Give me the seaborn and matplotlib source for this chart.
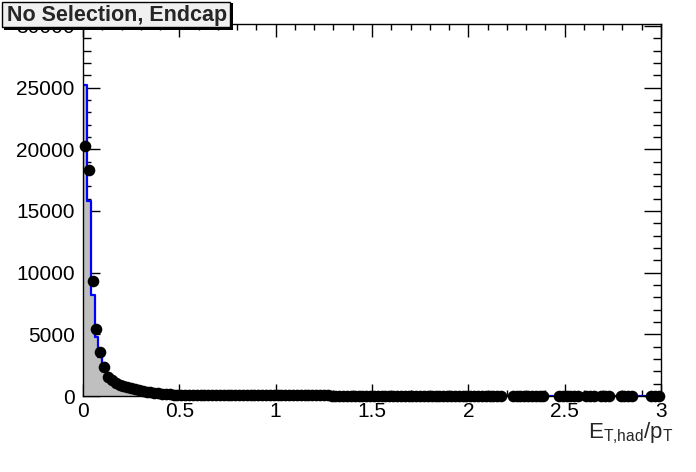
import numpy as np
import pandas as pd
import matplotlib
matplotlib.use("Agg")
import matplotlib.pyplot as plt
import matplotlib.patches as mpatches
from matplotlib.ticker import MultipleLocator
import seaborn as sns

# binning: 150 bins of 0.02 between 0 and 3
bin_lo = 0.0
bin_hi = 3.0
n_bins = 150

# simulation (filled histogram), counts per bin
mc_counts = [
    25200, 15850, 8150, 4810, 3160, 2650, 1800, 1380, 1100, 900,
    760, 650, 560, 490, 430, 375, 330, 290, 255, 225,
    195, 170, 150, 130, 115, 100,
    92, 88, 85, 82, 80, 78, 76, 74, 72, 70, 68, 67, 65, 64, 63, 61, 60, 59, 58, 57, 56, 55, 54, 53,
    52, 51, 50, 49, 48, 47, 46, 45, 45, 44, 43, 42, 41, 41, 40, 39, 38, 38, 37, 36, 36, 35, 34, 34, 33,
    32, 32, 31, 30, 30, 29, 29, 28, 27, 27, 26, 26, 25, 25, 24, 24, 23, 23, 22, 22, 21, 21, 20, 20, 19,
    19, 18, 18, 17, 17, 16, 16, 15, 15, 15, 14, 14, 13, 13, 12, 12, 12, 11, 11, 11, 11, 10, 10, 10, 10,
    9, 9, 9, 8, 8, 8, 8, 7, 7, 7, 7, 6, 6, 6, 6, 6, 5, 5, 5, 5, 5, 5, 5, 4, 4,
]

# data (black points), counts per bin; empty bins are not drawn
data_counts = [
    20240, 18340, 9330, 5400, 3600, 2330, 1570, 1300, 1090, 930,
    810, 690, 610, 530, 460, 400, 350, 300, 260, 225,
    195, 165, 140, 120, 105, 95,
    90, 88, 85, 82, 80, 78, 76, 74, 72, 70, 69, 67, 66, 64, 63, 62, 60, 59, 58, 57, 56, 55, 54, 53,
    52, 51, 50, 49, 48, 47, 46, 46, 45, 44, 43, 42, 42, 41, 40, 39, 38, 38, 37, 36, 36, 35, 34, 34, 33,
    32, 32, 31, 30, 30, 29, 29, 28, 27, 27, 26, 26, 25, 25, 24, 24, 23, 23, 22, 22, 21, 21, 20, 20, 19,
    19, 18, 18, 17, 17, 16, 16, 15, 15, 0, 0, 14, 13, 13, 12, 12, 12, 11, 11, 11, 0, 0, 0, 10, 10,
    9, 9, 9, 8, 0, 8, 8, 7, 0, 7, 7, 6, 0, 0, 6, 6, 5, 5, 0, 0, 0, 0, 5, 4, 4,
]

title_text = "No Selection, Endcap"
x_title = r"$\mathregular{E_{T{,}had}/p_{T}}$"

edges = np.linspace(bin_lo, bin_hi, n_bins + 1)
centers = 0.5 * (edges[:-1] + edges[1:])
bin_w = (bin_hi - bin_lo) / n_bins
df = pd.DataFrame({"x": centers, "mc": mc_counts, "data": data_counts})
pts = df[df["data"] > 0]

sns.set_style("ticks")
plt.rcParams["font.family"] = ["Liberation Sans", "DejaVu Sans"]
plt.rcParams["mathtext.fontset"] = "custom"
plt.rcParams["mathtext.rm"] = "Liberation Sans"
plt.rcParams["mathtext.it"] = "Liberation Sans"

fig = plt.figure(figsize=(6.96, 4.72), dpi=100)
ax = fig.add_axes([83 / 696, 1 - 396 / 472, 578 / 696, 372 / 472])

# filled grey histogram with blue outline
sns.histplot(data=df, x="x", weights="mc", binwidth=bin_w, binrange=(bin_lo, bin_hi),
             element="step", fill=True, color="#bfbfbf", alpha=1, linewidth=0, ax=ax)
sns.histplot(data=df, x="x", weights="mc", binwidth=bin_w, binrange=(bin_lo, bin_hi),
             element="step", fill=False, color="#0000ff", linewidth=1.6, ax=ax)
sns.scatterplot(data=pts, x="x", y="data", color="black", s=70,
                edgecolor="black", linewidth=0, zorder=5, clip_on=False, ax=ax)

ax.set_xlim(0, 3)
ax.set_ylim(0, 30160)
ax.set_xlabel("")
ax.set_ylabel("")

ax.xaxis.set_major_locator(MultipleLocator(0.5))
ax.xaxis.set_minor_locator(MultipleLocator(0.1))
ax.yaxis.set_major_locator(MultipleLocator(5000))
ax.yaxis.set_minor_locator(MultipleLocator(1000))
ax.xaxis.set_major_formatter(plt.FuncFormatter(lambda v, p: f"{v:g}"))

for s in ax.spines.values():
    s.set_visible(True)
    s.set_linewidth(1.0)
    s.set_color("black")

ax.tick_params(axis="both", which="both", direction="in", top=True, right=True,
               labelsize=15, colors="black", width=1.0)
ax.tick_params(axis="x", which="major", length=9, pad=4)
ax.tick_params(axis="x", which="minor", length=4.5)
ax.tick_params(axis="y", which="major", length=12, pad=6)
ax.tick_params(axis="y", which="minor", length=6)

# axis title at the bottom right
fig.text(673 / 696, 1 - 438 / 472, x_title, ha="right", va="baseline", fontsize=16)

# title box with shadow in the top left corner
fig.patches.append(mpatches.Rectangle((4 / 696, 1 - 29.5 / 472), 228.5 / 696, 27 / 472,
                                      transform=fig.transFigure, facecolor="black",
                                      edgecolor="none", zorder=2))
fig.patches.append(mpatches.Rectangle((2 / 696, 1 - 27 / 472), 228 / 696, 25 / 472,
                                      transform=fig.transFigure, facecolor="#f0f0f0",
                                      edgecolor="black", linewidth=1.0, zorder=3))
fig.text(117 / 696, 1 - 15 / 472, title_text, ha="center", va="center",
         fontsize=15.5, fontweight="bold", zorder=4)

fig.savefig("out.png", dpi=100)
